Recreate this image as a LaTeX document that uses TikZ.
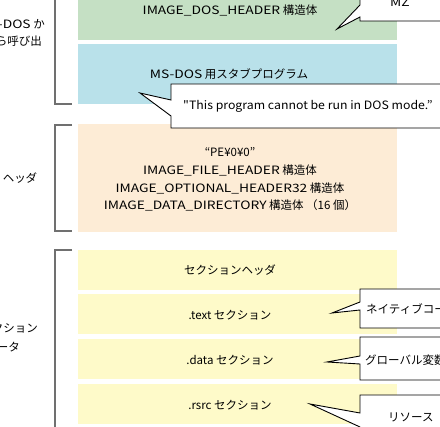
\documentclass[tikz,border=0pt]{standalone}
\usepackage{fontspec}
\setmainfont{Noto Sans CJK JP}
\newfontfamily\lat[FakeStretch=1.2]{Noto Sans CJK JP}
\newfontfamily\latb[FakeStretch=1.07]{Noto Sans CJK JP}
\definecolor{dosgreen}{RGB}{197,224,196}
\definecolor{stubblue}{RGB}{185,225,234}
\definecolor{hdrpeach}{RGB}{253,236,214}
\definecolor{secyellow}{RGB}{254,250,201}
\definecolor{brk}{RGB}{112,112,112}
\begin{document}
\begin{tikzpicture}[x=1pt,y=-1pt,
  every node/.style={font=\fontsize{11.5}{13}\selectfont, inner sep=0pt, text=black},
  blk/.style={draw=none, minimum width=319pt, anchor=north west, outer sep=0pt},
  brack/.style={draw=brk, line width=1.8pt},
  call/.style={draw=black, fill=white, line width=0.9pt, line join=miter}]
\useasboundingbox (0,0) rectangle (440,427);
\clip (0,0) rectangle (440,427);
% blocks
\node[blk, fill=dosgreen, minimum height=60pt] (dosb) at (78,-20) {};
\node[blk, fill=stubblue, minimum height=60pt] (stubb) at (78,44) {};
\node[blk, fill=hdrpeach, minimum height=108pt] (hdrb) at (78,124) {};
\node[blk, fill=secyellow, minimum height=40pt] (sechb) at (78,250) {};
\node[blk, fill=secyellow, minimum height=40pt] (textb) at (78,294) {};
\node[blk, fill=secyellow, minimum height=40pt] (datab) at (78,339) {};
\node[blk, fill=secyellow, minimum height=40pt] (rsrcb) at (78,384) {};
% brackets
\draw[brack] (55,-10) -- (55,104) -- (72,104);
\draw[brack] (72,125) -- (55,125) -- (55,231) -- (72,231);
\draw[brack] (72,250) -- (55,250) -- (55,440);
% callout tips
\coordinate (mztip) at (337,29);
\coordinate (dostip) at (140,93);
\coordinate (ntip) at (332,313);
\coordinate (gtip) at (327,362);
\coordinate (rtip) at (310,404);
% callouts
\draw[call] (360,-30) -- (470,-30) -- (470,21) -- (360,21) -- (360,17) -- (mztip) -- (360,5) -- cycle;
\draw[call] (171,84) -- (460,84) -- (460,128) -- (171,128) -- (171,116) -- (dostip) -- (171,100) -- cycle;
\draw[call] (360,289) -- (460,289) -- (460,328) -- (360,328) -- (360,310) -- (ntip) -- (360,302) -- cycle;
\draw[call] (360,337) -- (460,337) -- (460,380) -- (360,380) -- (360,364) -- (gtip) -- (360,356) -- cycle;
\draw[call] (360,395) -- (460,395) -- (460,450) -- (360,450) -- (360,427) -- (rtip) -- (360,413) -- cycle;
% block texts
\node (dost) at (230,10) {{\lat IMAGE\_DOS\_HEADER} 構造体};
\node (stubt) at (229,74) {{\lat MS-DOS} 用スタブプログラム};
\node[align=center, font=\fontsize{11.5}{17.7}\selectfont] (hdrt) at (230,179.5)
  {“PE¥0¥0”\\{\lat IMAGE\_FILE\_HEADER} 構造体\\{\lat IMAGE\_OPTIONAL\_HEADER32} 構造体\\{\lat IMAGE\_DATA\_DIRECTORY} 構造体 （16 個）};
\node (secht) at (230,270) {セクションヘッダ};
\node (textt) at (230,315) {.text セクション};
\node (datat) at (230,360) {.data セクション};
\node (rsrct) at (230,405) {.rsrc セクション};
% callout texts
\node (mzt) at (400,2) {{\lat MZ}};
\node[anchor=west] (dost2) at (183,106) {\latb "This program cannot be run in DOS mode.”};
\node[anchor=west] (nt) at (366,309) {ネイティブコード};
\node[anchor=west] (gt) at (365,360) {グローバル変数};
\node[anchor=west] (rt) at (388,417) {リソース};
% left labels
\node[anchor=east] (l1a) at (45,24) {{\lat MS-DOS} か};
\node[anchor=east] (l1b) at (42,41) {ら呼び出};
\node (l2) at (20,178) {ヘッダ};
\node[anchor=east] (l3a) at (38,328) {セクション};
\node[anchor=east] (l3b) at (20,347) {データ};
\end{tikzpicture}
\end{document}
